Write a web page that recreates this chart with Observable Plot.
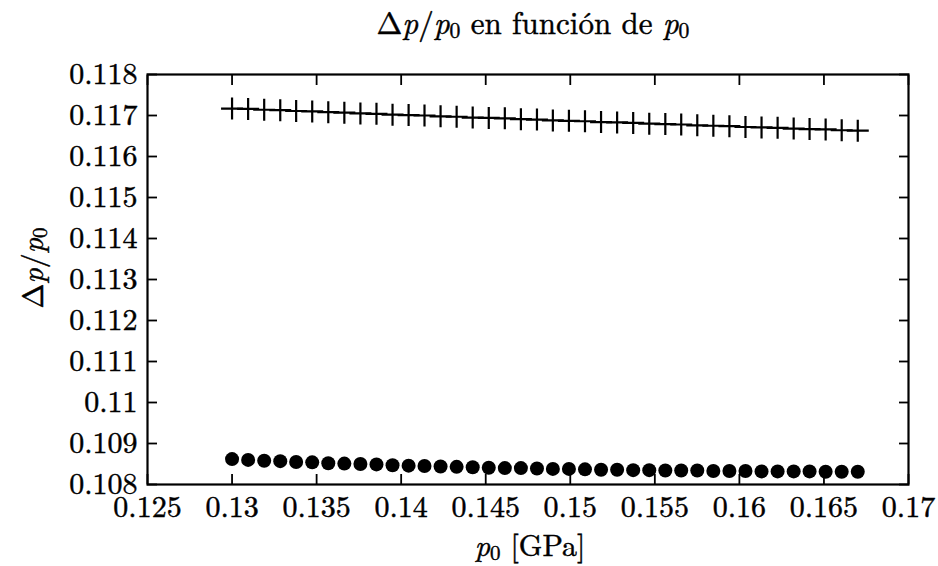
<!DOCTYPE html>
<html><head><meta charset="utf-8">
<script src="https://cdn.jsdelivr.net/npm/d3@7"></script>
<script src="https://cdn.jsdelivr.net/npm/@observablehq/plot@0.6"></script>
<style>
body{margin:0;background:#fff;}
#wrap{position:relative;width:938px;height:566px;font-family:'Latin Modern Roman','Liberation Serif',serif;color:#000;}
#chart svg, #chart svg text{font-family:'Latin Modern Roman','Liberation Serif',serif !important;}
#chart svg g[aria-label$="tick label"] text{stroke:#000;stroke-width:0.45px;}
.lbl{position:absolute;white-space:nowrap;font-size:30px;line-height:1;font-family:'Latin Modern Roman','Liberation Serif',serif;-webkit-text-stroke:0.45px #000;}
.lbl sub{font-size:0.7em;vertical-align:-0.2em;line-height:0;}
#title{left:533px;top:6px;transform:translateX(-50%);font-size:31px;}
#xlabel{left:530px;top:529px;transform:translateX(-50%);}
#ylabel{left:31px;top:268px;transform:translate(-50%,-50%) rotate(-90deg);}
</style></head><body>
<div id="wrap">
<div id="chart"></div>
<div class="lbl" id="title">Δ<i>p</i>/<i>p</i><sub>0</sub> en función de <i>p</i><sub>0</sub></div>
<div class="lbl" id="xlabel"><i>p</i><sub>0</sub> [GPa]</div>
<div class="lbl" id="ylabel">Δ<i>p</i>/<i>p</i><sub>0</sub></div>
</div>
<script>
// p0 values [GPa] (shared by both series)
const p0 = [0.13000,0.13095,0.13190,0.13285,0.13379,0.13474,0.13569,0.13664,0.13759,0.13854,
            0.13949,0.14044,0.14138,0.14233,0.14328,0.14423,0.14518,0.14613,0.14708,0.14803,
            0.14897,0.14992,0.15087,0.15182,0.15277,0.15372,0.15467,0.15562,0.15656,0.15751,
            0.15846,0.15941,0.16036,0.16131,0.16226,0.16321,0.16415,0.16510,0.16605,0.16700];
// series drawn with "+" symbols
const crossVals = [0.11717,0.11716,0.11714,0.11713,0.11711,0.11710,0.11708,0.11707,0.11705,0.11704,
                   0.11702,0.11701,0.11700,0.11698,0.11697,0.11695,0.11694,0.11693,0.11691,0.11690,
                   0.11688,0.11687,0.11686,0.11684,0.11683,0.11682,0.11680,0.11679,0.11678,0.11676,
                   0.11675,0.11674,0.11672,0.11671,0.11670,0.11668,0.11667,0.11666,0.11664,0.11663];
// series drawn with filled circles
const dotVals = [0.10862,0.10860,0.10858,0.10857,0.10855,0.10854,0.10852,0.10851,0.10850,0.10849,
                 0.10847,0.10846,0.10845,0.10844,0.10843,0.10842,0.10841,0.10840,0.10840,0.10839,
                 0.10838,0.10838,0.10837,0.10836,0.10836,0.10835,0.10835,0.10834,0.10834,0.10834,
                 0.10833,0.10833,0.10833,0.10832,0.10832,0.10832,0.10832,0.10831,0.10831,0.10831];
// axis ticks and labels
const xTicks = [0.125,0.13,0.135,0.14,0.145,0.15,0.155,0.16,0.165,0.17];
const xTickLabels = ["0.125","0.13","0.135","0.14","0.145","0.15","0.155","0.16","0.165","0.17"];
const yTicks = [0.108,0.109,0.11,0.111,0.112,0.113,0.114,0.115,0.116,0.117,0.118];
const yTickLabels = ["0.108","0.109","0.11","0.111","0.112","0.113","0.114","0.115","0.116","0.117","0.118"];

const crossData = p0.map((x, i) => ({x, y: crossVals[i]}));
const dotData = p0.map((x, i) => ({x, y: dotVals[i]}));
const xLab = new Map(xTicks.map((t, i) => [t, xTickLabels[i]]));
const yLab = new Map(yTicks.map((t, i) => [t, yTickLabels[i]]));

const plusSymbol = {
  draw(ctx, size) {
    const r = Math.sqrt(size / Math.PI);
    ctx.moveTo(-r, 0); ctx.lineTo(r, 0);
    ctx.moveTo(0, -r); ctx.lineTo(0, r);
  }
};

const chart = Plot.plot({
  width: 938, height: 566,
  marginLeft: 147, marginRight: 30, marginTop: 74, marginBottom: 82,
  style: {fontFamily: "'Latin Modern Roman', serif", fontSize: "30px", color: "black", background: "white", overflow: "visible"},
  x: {domain: [0.125, 0.17]},
  y: {domain: [0.108, 0.118]},
  marks: [
    Plot.axisX(xTicks, {anchor: "bottom", tickSize: -10, tickPadding: 21, strokeWidth: 1.8, label: null,
      fontVariant: "normal", tickFormat: d => xLab.get(d)}),
    Plot.axisX(xTicks, {anchor: "top", tickSize: -10, strokeWidth: 1.8, label: null, tickFormat: () => ""}),
    Plot.axisY(yTicks, {anchor: "left", tickSize: -10, tickPadding: 20, strokeWidth: 1.8, label: null,
      fontVariant: "normal", tickFormat: d => yLab.get(d)}),
    Plot.axisY(yTicks, {anchor: "right", tickSize: -10, strokeWidth: 1.8, label: null, tickFormat: () => ""}),
    Plot.frame({stroke: "black", strokeWidth: 2.2}),
    Plot.dot(crossData, {x: "x", y: "y", symbol: plusSymbol, r: 11, stroke: "black", strokeWidth: 2.2, fill: "none"}),
    Plot.dot(dotData, {x: "x", y: "y", r: 7, fill: "black", stroke: "none"})
  ]
});
document.getElementById("chart").appendChild(chart);
</script>
</body></html>
